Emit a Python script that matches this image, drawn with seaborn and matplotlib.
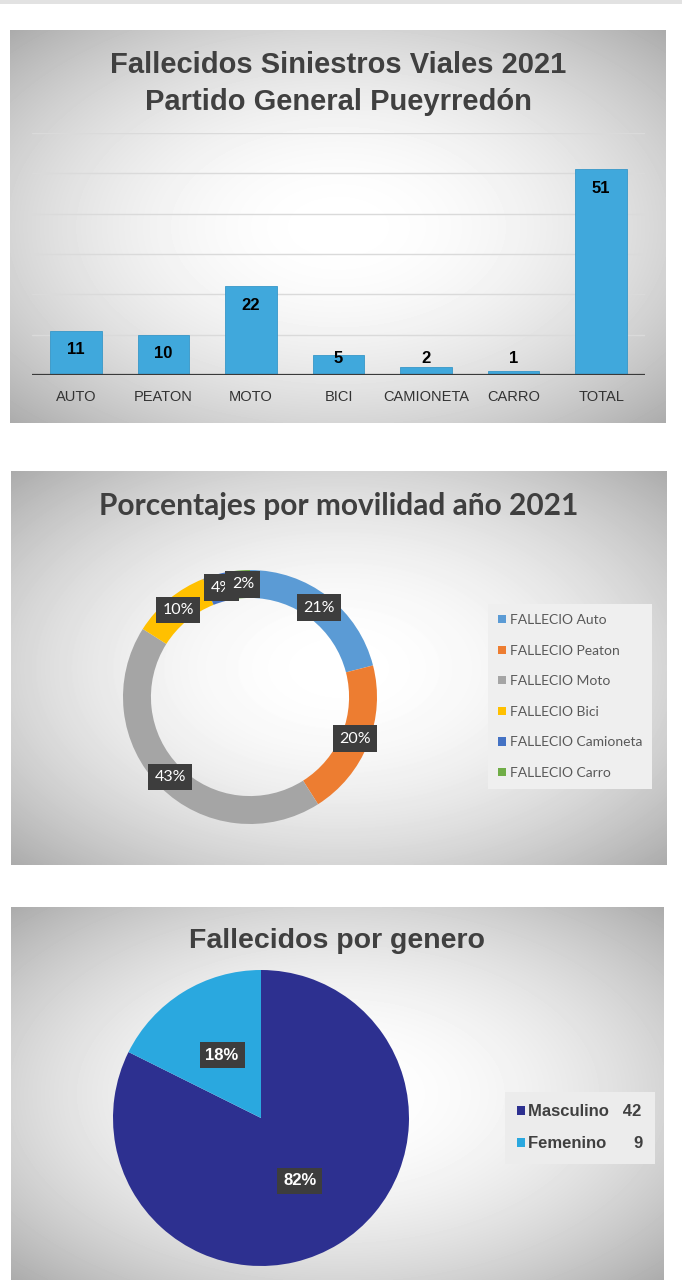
import numpy as np
import pandas as pd
import matplotlib
matplotlib.use('Agg')
import matplotlib.pyplot as plt
import seaborn as sns
from matplotlib.patches import Patch, Rectangle

# ---------------- data ----------------
categorias = ['AUTO', 'PEATON', 'MOTO', 'BICI', 'CAMIONETA', 'CARRO', 'TOTAL']
fallecidos = [11, 10, 22, 5, 2, 1, 51]

movilidad = ['FALLECIO Auto', 'FALLECIO Peaton', 'FALLECIO Moto',
             'FALLECIO Bici', 'FALLECIO Camioneta', 'FALLECIO Carro']
porcentajes = [21, 20, 43, 10, 4, 2]
colores_mov = ['#5B9BD5', '#ED7D31', '#A5A5A5', '#FFC000', '#4472C4', '#70AD47']

genero = ['Masculino', 'Femenino']
genero_valores = [42, 9]
colores_gen = ['#2D3090', '#2AA8DF']

titulo1 = ['Fallecidos Siniestros Viales 2021', 'Partido General Pueyrredón']
titulo2 = 'Porcentajes por movilidad año 2021'
titulo3 = 'Fallecidos por genero'

# ---------------- style ----------------
sns.set_theme(style='white')
plt.rcParams['font.family'] = ['Liberation Sans', 'DejaVu Sans']
SANS = ['Liberation Sans', 'DejaVu Sans']
CAL = ['Lato', 'DejaVu Sans']

W, H = 682, 1280
fig = plt.figure(figsize=(W / 100, H / 100), dpi=100)
fig.patch.set_facecolor('white')


def box(x0, y0, x1, y1):
    return [x0 / W, 1 - y1 / H, (x1 - x0) / W, (y1 - y0) / H]


def panel(x0, y0, x1, y1):
    ax = fig.add_axes(box(x0, y0, x1, y1), zorder=0)
    h = int(y1 - y0)
    w = int(x1 - x0)
    yy, xx = np.mgrid[0:h, 0:w]
    dx = (xx - w / 2) / (w / 2)
    dy = (yy - h / 2) / (h / 2)
    d2 = (dx ** 2 + dy ** 2) / 2
    img = 1 - 0.33 * np.clip(d2, 0, 1.2)
    ax.imshow(img, cmap='gray', vmin=0, vmax=1, aspect='auto',
              extent=[0, 1, 0, 1], interpolation='bilinear')
    ax.set_axis_off()
    return ax


# top shadow strip
fig.patches.append(Rectangle((0, 1 - 4 / H), 1, 4 / H, transform=fig.transFigure,
                             facecolor='#e2e2e2', edgecolor='none', zorder=0))

# ---------------- panel 1: bar chart ----------------
panel(10, 30, 666, 423)
for i, line in enumerate(titulo1):
    fig.text(338 / W, 1 - (65 + 37 * i) / H, line, ha='center', va='center',
             fontsize=21, fontweight='bold', color='#404040', family=SANS, zorder=5)

ax1 = fig.add_axes(box(32, 133, 645, 375), zorder=2)
ax1.patch.set_alpha(0)
df = pd.DataFrame({'categoria': categorias, 'fallecidos': fallecidos})
sns.barplot(data=df, x='categoria', y='fallecidos', color='#40A8DC', saturation=1,
            width=0.59, edgecolor='#3797C8', linewidth=0.6, ax=ax1, zorder=3)
ax1.set_ylim(0, 60)
ax1.set_xlim(-0.5, 6.5)
ax1.set_yticks(np.arange(10, 61, 10))
ax1.yaxis.grid(True, color='#dadada', linewidth=1)
ax1.set_axisbelow(True)
ax1.set_yticklabels([])
ax1.set_xlabel('')
ax1.set_ylabel('')
for s in ax1.spines.values():
    s.set_visible(False)
ax1.axhline(0, color='#3a3a3a', linewidth=1.6, zorder=4)
ax1.tick_params(axis='x', length=0, pad=10.5, labelsize=10.5, labelcolor='#333333')
ax1.tick_params(axis='y', length=0)
for i, v in enumerate(fallecidos):
    y = v - 4.75 if v >= 10 else 4.2
    ax1.text(i, y, str(v), ha='center', va='center', fontsize=12,
             fontweight='bold', color='black', zorder=5)

# ---------------- panel 2: donut ----------------
panel(11, 471, 667, 865)
fig.text(339 / W, 1 - 506 / H, titulo2, ha='center', va='center', fontsize=21.5,
         fontweight='bold', color='#3f3f3f', family=CAL, zorder=5)

ax2 = fig.add_axes(box(123, 570, 377, 824), zorder=2)
wedges, texts, autotexts = ax2.pie(
    porcentajes, colors=colores_mov, startangle=90, counterclock=False, radius=1,
    wedgeprops=dict(width=0.22, edgecolor='none'),
    autopct='%1.0f%%', pctdistance=0.89,
    textprops=dict(color='white', fontsize=11.5, family=CAL))
for t in autotexts:
    t.set_bbox(dict(boxstyle='square,pad=0.4', facecolor='#3d3d3d', edgecolor='none'))
ax2.set_xlim(-1, 1)
ax2.set_ylim(-1, 1)
handles = [Patch(facecolor=c, edgecolor='none') for c in colores_mov]
leg2 = ax2.legend(handles, movilidad, loc='upper left',
                  bbox_to_anchor=(488 / W, 1 - 604 / H), bbox_transform=fig.transFigure,
                  frameon=True, facecolor='#efefef', edgecolor='none', fancybox=False,
                  framealpha=1, prop=dict(family=CAL, size=10), labelspacing=1.34,
                  handlelength=0.55, handleheight=0.55, handletextpad=0.3,
                  borderpad=0.72, borderaxespad=0)
for t in leg2.get_texts():
    t.set_color('#595959')

# ---------------- panel 3: pie ----------------
panel(11, 907, 664, 1280)
fig.text(337 / W, 1 - 941 / H, titulo3, ha='center', va='center', fontsize=20.5,
         fontweight='bold', color='#404040', family=SANS, zorder=5)

ax3 = fig.add_axes(box(113, 970, 409, 1266), zorder=2)
w3, t3, a3 = ax3.pie(
    genero_valores, colors=colores_gen, startangle=90, counterclock=False, radius=1,
    wedgeprops=dict(edgecolor='none'), autopct='%1.0f%%', pctdistance=0.5,
    textprops=dict(color='white', fontsize=12, fontweight='bold'))
for t in a3:
    t.set_bbox(dict(boxstyle='square,pad=0.35', facecolor='#3d3d3d', edgecolor='none'))
ax3.set_xlim(-1, 1)
ax3.set_ylim(-1, 1)
labels3 = [f'{genero[0]}   {genero_valores[0]}', f'{genero[1]}      {genero_valores[1]}']
handles3 = [Patch(facecolor=c, edgecolor='none') for c in colores_gen]
leg3 = ax3.legend(handles3, labels3, loc='upper left',
                  bbox_to_anchor=(505 / W, 1 - 1092 / H), bbox_transform=fig.transFigure,
                  frameon=True, facecolor='#ececec', edgecolor='none', fancybox=False,
                  framealpha=1, prop=dict(size=12, weight='bold'), labelspacing=1.05,
                  handlelength=0.45, handleheight=0.45, handletextpad=0.2,
                  borderpad=0.72, borderaxespad=0)
for t in leg3.get_texts():
    t.set_color('#404040')

fig.savefig('out.png', dpi=100, facecolor='white')
